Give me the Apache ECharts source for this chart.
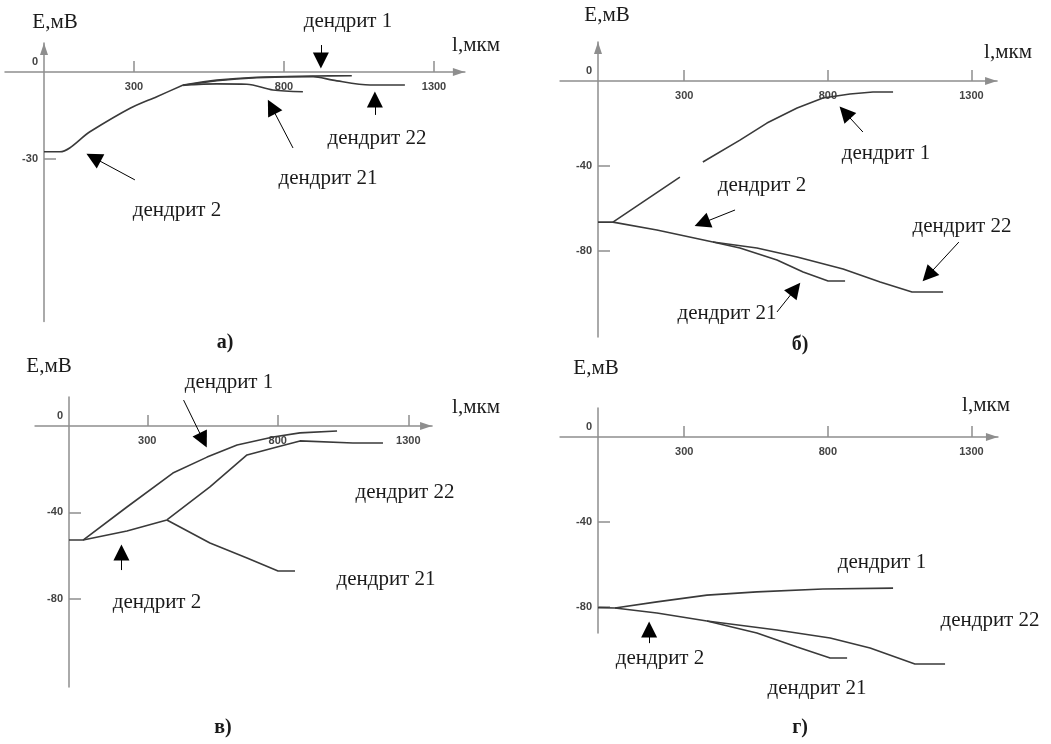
<!DOCTYPE html>
<html><head><meta charset="utf-8">
<script src="https://cdn.jsdelivr.net/npm/echarts@6/dist/echarts.min.js"></script>
<style>html,body{margin:0;padding:0;background:#fff}#c{width:1051px;height:744px}</style>
</head><body><div id="c"></div>
<script>
// ---------- tick labels ----------
const xTicks = [300, 800, 1300];
const yTicksA = [-30];
const yTicksB = [-40, -80];
const yTicksC = [-40, -80];
const yTicksD = [-40, -80];

// ---------- panel а ----------
const a_d2  = [[0,-27.5],[53,-27.5],[153,-20.6],[287,-12.5],[376,-8.5],[464,-4.5]];
const a_d1  = [[464,-4.5],[576,-2.8],[709,-1.8],[897,-1.4],[1026,-1.3]];
const a_d21 = [[464,-4.5],[576,-4.1],[676,-4.2],[763,-6.2],[863,-6.8]];
const a_d22 = [[464,-4.6],[576,-3.0],[709,-2.0],[897,-1.6],[963,-2.8],[1087,-4.5],[1203,-4.5]];
const a_arrows = [[923,9.3,923,1.4],[1103,-14.8,1103,-6.9],[830,-26.2,747,-9.7],[303,-37.2,143,-28.3]];

// ---------- panel б ----------
const b_d2  = [[0,-66.4],[52,-66.4],[205,-70.1],[400,-75.8]];
const b_d1  = [[52,-66.4],[285,-45.2],[325,'-'],[365,-38.1],[494,-27.8],[588,-19.8],[693,-12.7],[783,-8],[877,-6.1],[957,-5.2],[1027,-5.2]];
const b_d21 = [[400,-75.8],[494,-78.6],[623,-84.2],[714,-89.9],[801,-94.1],[860,-94.1]];
const b_d22 = [[400,-75.8],[553,-78.6],[693,-82.8],[853,-88.5],[982,-94.6],[1093,-99.3],[1201,-99.3]];
const b_arrows = [[922,-24,842,-12.2],[477,-60.7,338,-68.2],[1256,-75.8,1131,-94.1],[623,-108.7,703,-95.1]];

// ---------- panel в ----------
const c_d2  = [[0,-52.8],[54,-52.8],[222,-48.6],[375,-43.5]];
const c_d1  = [[54,-52.8],[222,-37.5],[398,-21.8],[529,-14.4],[644,-8.8],[782,-5.1],[885,-3.2],[1027,-2.3]];
const c_d22 = [[375,-43.5],[540,-28.2],[682,-13.4],[797,-9.7],[885,-6.9],[1088,-7.9],[1203,-7.9]];
const c_d21 = [[375,-43.5],[540,-54.2],[682,-61.1],[801,-67.1],[866,-67.1]];
const c_arrows = [[439,12,527,-9.7],[201,-66.7,201,-55.1]];

// ---------- panel г ----------
const d_d2  = [[0,-80.3],[59,-80.5],[205,-82.8],[379,-86.6]];
const d_d1  = [[59,-80.5],[205,-77.6],[379,-74.4],[553,-72.9],[783,-71.5],[1027,-71.1]];
const d_d21 = [[379,-86.6],[553,-92.2],[693,-98.8],[808,-104],[867,-104]];
const d_d22 = [[379,-86.6],[623,-90.8],[808,-94.6],[947,-99.3],[1103,-106.8],[1208,-106.8]];
const d_arrows = [[178,-97,178,-87]];

// ---------- layout (pixels) ----------
const layouts = [
  {ox:44,  oy:72,  sx:0.3,    sy:2.9,   xmin:-130, xmax:1403, ymin:-86,    ymax:10,   topArrow:true,  yt:yTicksA, vis:true,  smooth:0.3},
  {ox:598, oy:81,  sx:0.2873, sy:2.125, xmin:-132, xmax:1389, ymin:-120.5, ymax:18.4, topArrow:true,  yt:yTicksB, vis:true,  smooth:false},
  {ox:69,  oy:426, sx:0.261,  sy:2.16,  xmin:-130, xmax:1391, ymin:-120.8, ymax:13.4, topArrow:false, yt:yTicksC, vis:true,  smooth:false},
  {ox:598, oy:437, sx:0.2873, sy:2.125, xmin:-132, xmax:1392, ymin:-92.2,  ymax:13.6, topArrow:false, yt:yTicksD, vis:true,  smooth:false},
  // hidden twin of panel г with a longer value range, for marks below its short axis
  {ox:598, oy:437, sx:0.2873, sy:2.125, xmin:-132, xmax:1392, ymin:-125,   ymax:13.6, topArrow:false, yt:[],      vis:false, smooth:false}
];
// [data, axis index]
const panelSeries = [
  [[a_d2,0], [a_d1,0], [a_d21,0], [a_d22,0]],
  [[b_d2,1], [b_d1,1], [b_d21,1], [b_d22,1]],
  [[c_d2,2], [c_d1,2], [c_d21,2], [c_d22,2]],
  [[d_d2,4], [d_d1,3], [d_d21,3], [d_d22,3]]
];
const panelArrows = [a_arrows, b_arrows, c_arrows, d_arrows];
const names = ['дендрит 2','дендрит 1','дендрит 21','дендрит 22'];

const AX = '#8e8e8e';
const grids = [], xAxes = [], yAxes = [], series = [];
layouts.forEach((L, i) => {
  const gH = (L.ymax - L.ymin) * L.sy;
  const gW = (L.xmax - L.xmin) * L.sx;
  const distBottom = -L.ymin * L.sy;
  const distLeft = -L.xmin * L.sx;
  grids.push({left: L.ox + L.xmin*L.sx, top: L.oy - L.ymax*L.sy, width: gW, height: gH,
              containLabel:false, outerBoundsMode:'none'});
  xAxes.push({gridIndex:i, type:'value', min:L.xmin, max:L.xmax, show:L.vis,
    axisLine:{onZero:true, lineStyle:{color:AX, width:1.5}, symbol:['none','triangle'], symbolSize:[8,12], symbolOffset:[0,-6]},
    axisTick:{customValues:xTicks, inside:true, length:11, lineStyle:{color:AX, width:1.5}},
    axisLabel:{customValues:xTicks, margin: 9 - distBottom, fontSize:11, fontWeight:'bold', color:'#444', fontFamily:'Liberation Sans',
      formatter: v => String(v)},
    splitLine:{show:false}});
  yAxes.push({gridIndex:i, type:'value', min:L.ymin, max:L.ymax, show:L.vis,
    axisLine:{onZero:true, lineStyle:{color:AX, width:1.5}, symbol: L.topArrow ? ['none','triangle'] : 'none', symbolSize:[8,12], symbolOffset:[0,-6]},
    axisTick:{customValues:L.yt, inside:true, length:12, lineStyle:{color:AX, width:1.5}},
    axisLabel:{customValues:[0].concat(L.yt), margin: 6 - distLeft, fontSize:11, fontWeight:'bold', color:'#444', fontFamily:'Liberation Sans',
      formatter: v => v === 0 ? '{z|0}' : String(v),
      rich:{z:{fontSize:11, fontWeight:'bold', color:'#444', fontFamily:'Liberation Sans', padding:[0,0,20,0]}}},
    splitLine:{show:false}});
});

// arrow end shortened so that the head tip (not its centre) lands on the read point
function arrowPair(a, L) {
  const dx = (a[2]-a[0]) * L.sx, dy = (a[3]-a[1]) * L.sy;
  const len = Math.sqrt(dx*dx + dy*dy);
  const f = Math.max(0, (len - 7.5) / len);
  return [{coord:[a[0], a[1]]}, {coord:[a[0] + (a[2]-a[0])*f, a[1] + (a[3]-a[1])*f]}];
}

panelSeries.forEach((list, p) => {
  list.forEach((item, k) => {
    const ax = item[1];
    const s = {type:'line', name:names[k], xAxisIndex:ax, yAxisIndex:ax, data:item[0],
      showSymbol:false, symbol:'none', clip:false, silent:true, animation:false,
      smooth: layouts[p].smooth,
      lineStyle:{color:'#3a3a3a', width:1.6}};
    if (k === 0) {
      s.markLine = {silent:true, animation:false, symbol:['none','triangle'], symbolSize:16,
        lineStyle:{color:'#000', width:1, type:'solid'}, label:{show:false},
        emphasis:{disabled:true},
        data: panelArrows[p].map(a => arrowPair(a, layouts[ax]))};
    }
    series.push(s);
  });
});

const F = '"Liberation Serif", "Times New Roman", serif';
const texts = [
  ['E,мВ',55,22],['l,мкм',476,45],['дендрит 1',348,21],['дендрит 22',377,138],['дендрит 21',328,178],['дендрит 2',177,210],
  ['E,мВ',607,15],['l,мкм',1008,52],['дендрит 1',886,153],['дендрит 2',762,185],['дендрит 22',962,226],['дендрит 21',727,313],
  ['E,мВ',49,366],['l,мкм',476,407],['дендрит 1',229,382],['дендрит 22',405,492],['дендрит 21',386,579],['дендрит 2',157,602],
  ['E,мВ',596,368],['l,мкм',986,405],['дендрит 1',882,562],['дендрит 22',990,620],['дендрит 2',660,658],['дендрит 21',817,688]
];
const titles = [['а)',225,343],['б)',800,345],['в)',223,728],['г)',800,728]];
const graphic = texts.map(t => ({type:'text', x:t[1], y:t[2], silent:true,
  style:{text:t[0], fill:'#1a1a1a', font:'21px ' + F, align:'center', verticalAlign:'middle'}}))
 .concat(titles.map(t => ({type:'text', x:t[1], y:t[2], silent:true,
  style:{text:t[0], fill:'#1a1a1a', font:'bold 20px ' + F, align:'center', verticalAlign:'middle'}})));

const chart = echarts.init(document.getElementById('c'), null, {renderer:'canvas'});
chart.setOption({animation:false, backgroundColor:'#fff', grid:grids, xAxis:xAxes, yAxis:yAxes, series:series, graphic:graphic});
</script></body></html>
